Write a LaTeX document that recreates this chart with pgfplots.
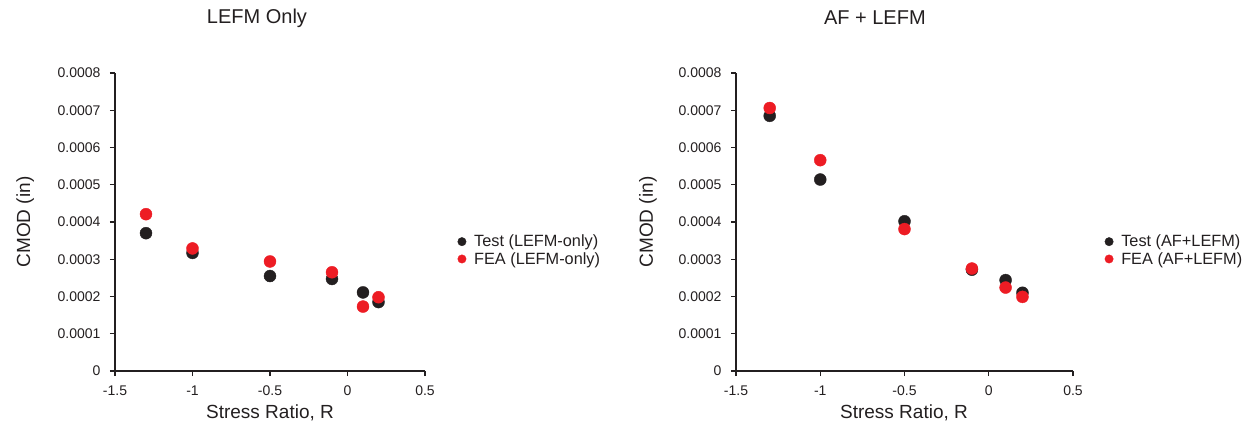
\documentclass[border=0pt]{standalone}
\usepackage{pgfplots}
\pgfplotsset{compat=1.18}
\usepackage{fontspec}
\setmainfont{Liberation Sans}
\definecolor{ptblack}{HTML}{231F20}
\definecolor{ptred}{HTML}{ED1C24}
\definecolor{txt}{HTML}{231F20}
\pgfplotsset{
  myaxis/.style={
    scale only axis,
    height=298pt,
    xmin=-1.5, xmax=0.5, ymin=0, ymax=0.0008,
    scaled y ticks=false,
    scaled x ticks=false,
    axis lines=left,
    axis line style={-, line width=1.3pt, color=ptblack},
    tick align=outside,
    major tick length=5pt,
    tick style={line width=1.3pt, color=ptblack},
    xtick={-1.5,-1,-0.5,0,0.5},
    xticklabels={-1.5,-1,-0.5,0,0.5},
    ytick={0,0.0001,0.0002,0.0003,0.0004,0.0005,0.0006,0.0007,0.0008},
    yticklabels={0,0.0001,0.0002,0.0003,0.0004,0.0005,0.0006,0.0007,0.0008},
    ticklabel style={font=\fontsize{14}{16}\selectfont, text=txt},
    yticklabel style={xshift=-6pt},
    xticklabel style={yshift=-6pt},
    label style={font=\fontsize{19}{22}\selectfont, text=txt},
    xlabel={Stress Ratio, R},
    ylabel={CMOD (in)},
    legend style={draw=none, fill=none, font=\fontsize{16.3}{19}\selectfont, text=txt,
      anchor=west, row sep=0pt, inner sep=0pt,
      nodes={inner sep=2pt}},
    legend image code/.code={\draw[#1, mark size=4.2pt] plot coordinates {(0.15cm,0cm)};},
    legend cell align=left,
    clip=false,
  },
  test/.style={only marks, mark=*, mark size=6pt, color=ptblack},
  fea/.style={only marks, mark=*, mark size=6pt, color=ptred},
}
\begin{document}
\begin{tikzpicture}
\path[use as bounding box] (0,0) rectangle (1251pt,429pt);
% Left
\begin{axis}[myaxis, at={(115pt,58pt)}, anchor=south west, width=310pt,
  ylabel style={at={(axis description cs:-0.29,0.5)}, anchor=center},
  xlabel style={at={(axis description cs:0.5,-0.141)}, anchor=center},
  legend style={at={(axis description cs:1.105,0.405)}},
]
\addplot[test] coordinates {(-1.3,0.000370) (-1,0.000317) (-0.5,0.000255) (-0.1,0.000247) (0.1,0.000211) (0.2,0.000185)};
\addlegendentry{\kern6pt\relax Test (LEFM-only)}
\addplot[fea] coordinates {(-1.3,0.000421) (-1,0.000329) (-0.5,0.000294) (-0.1,0.000265) (0.1,0.000173) (0.2,0.000198)};
\addlegendentry{\kern6pt\relax FEA (LEFM-only)}
\node[font=\fontsize{20}{24}\selectfont, text=txt] at (axis description cs:0.458,1.185) {LEFM Only};
\end{axis}
% Right
\begin{axis}[myaxis, at={(736pt,58pt)}, anchor=south west, width=337pt,
  ylabel style={at={(axis description cs:-0.261,0.5)}, anchor=center},
  xlabel style={at={(axis description cs:0.4985,-0.141)}, anchor=center},
  legend style={at={(axis description cs:1.094,0.405)}},
]
\addplot[test] coordinates {(-1.3,0.000685) (-1,0.000514) (-0.5,0.000402) (-0.1,0.000272) (0.1,0.000244) (0.2,0.000210)};
\addlegendentry{\kern6pt\relax Test (AF+LEFM)}
\addplot[fea] coordinates {(-1.3,0.000706) (-1,0.000566) (-0.5,0.000381) (-0.1,0.000275) (0.1,0.000224) (0.2,0.000199)};
\addlegendentry{\kern6pt\relax FEA (AF+LEFM)}
\node[font=\fontsize{20}{24}\selectfont, text=txt] at (axis description cs:0.412,1.185) {AF + LEFM};
\end{axis}
\end{tikzpicture}
\end{document}
